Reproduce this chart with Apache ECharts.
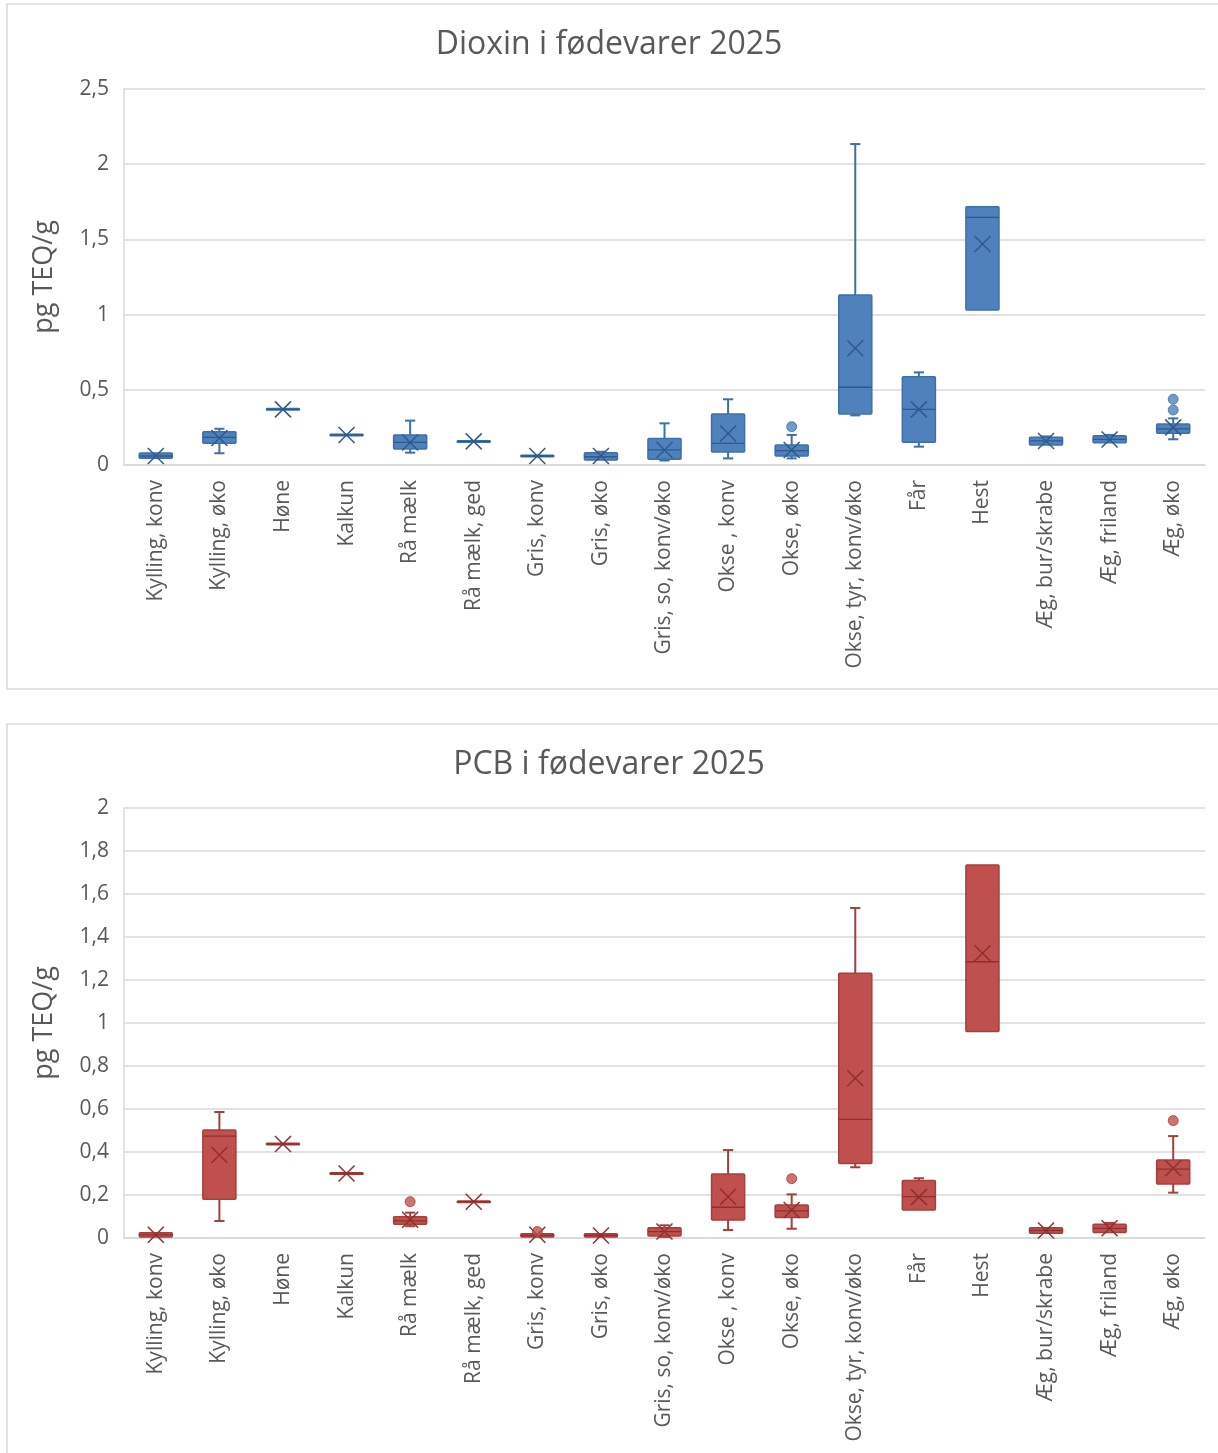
<!DOCTYPE html>
<html>
<head>
<meta charset="utf-8">
<script src="https://cdn.jsdelivr.net/npm/echarts@6/dist/echarts.min.js"></script>
<style>
  html, body { margin: 0; padding: 0; background: #fff; }
  #chart { width: 1218px; height: 1453px; }
</style>
</head>
<body>
<div id="chart"></div>
<script>
// ---------- DATA ----------
const categories = ['Kylling, konv','Kylling, øko','Høne','Kalkun','Rå mælk','Rå mælk, ged','Gris, konv','Gris, øko','Gris, so, konv/øko','Okse , konv','Okse, øko','Okse, tyr, konv/øko','Får','Hest','Æg, bur/skrabe','Æg, friland','Æg, øko'];

const dioxinTicks = [0, 0.5, 1, 1.5, 2, 2.5];
const dioxinMin    = [0.045, 0.078, 0.37, 0.20, 0.082, 0.157, 0.055, 0.033, 0.030, 0.044, 0.044, 0.330, 0.122, 1.030, 0.133, 0.148, 0.171];
const dioxinQ1     = [0.045, 0.144, 0.37, 0.20, 0.106, 0.157, 0.055, 0.033, 0.038, 0.086, 0.060, 0.339, 0.151, 1.030, 0.133, 0.148, 0.211];
const dioxinMedian = [0.060, 0.184, 0.37, 0.20, 0.150, 0.157, 0.060, 0.055, 0.100, 0.144, 0.095, 0.517, 0.370, 1.647, 0.160, 0.170, 0.240];
const dioxinQ3     = [0.080, 0.221, 0.37, 0.20, 0.200, 0.157, 0.065, 0.082, 0.177, 0.339, 0.133, 1.130, 0.587, 1.717, 0.184, 0.195, 0.273];
const dioxinMax    = [0.080, 0.241, 0.37, 0.20, 0.295, 0.157, 0.065, 0.088, 0.277, 0.437, 0.200, 2.134, 0.616, 1.717, 0.190, 0.200, 0.310];
const dioxinMean   = [0.060, 0.180, 0.37, 0.20, 0.150, 0.157, 0.060, 0.060, 0.100, 0.210, 0.100, 0.776, 0.370, 1.469, 0.160, 0.170, 0.250];
const dioxinOutliers = [[10, 0.255], [16, 0.366], [16, 0.437]];

const pcbTicks = [0, 0.2, 0.4, 0.6, 0.8, 1, 1.2, 1.4, 1.6, 1.8, 2];
const pcbMin    = [0.005, 0.079, 0.437, 0.30, 0.055, 0.169, 0.005, 0.005, 0.005, 0.037, 0.043, 0.329, 0.130, 0.960, 0.022, 0.026, 0.211];
const pcbQ1     = [0.005, 0.180, 0.437, 0.30, 0.064, 0.169, 0.005, 0.005, 0.009, 0.084, 0.095, 0.347, 0.130, 0.960, 0.022, 0.026, 0.251];
const pcbMedian = [0.015, 0.474, 0.437, 0.30, 0.080, 0.169, 0.012, 0.012, 0.030, 0.143, 0.126, 0.552, 0.192, 1.285, 0.035, 0.045, 0.320];
const pcbQ3     = [0.025, 0.502, 0.437, 0.30, 0.099, 0.169, 0.020, 0.020, 0.048, 0.298, 0.153, 1.231, 0.267, 1.735, 0.048, 0.064, 0.363];
const pcbMax    = [0.025, 0.586, 0.437, 0.30, 0.118, 0.169, 0.020, 0.020, 0.059, 0.409, 0.203, 1.535, 0.278, 1.735, 0.048, 0.070, 0.474];
const pcbMean   = [0.015, 0.386, 0.437, 0.30, 0.085, 0.169, 0.015, 0.012, 0.030, 0.192, 0.130, 0.743, 0.190, 1.324, 0.035, 0.045, 0.324];
const pcbOutliers = [[4, 0.169], [6, 0.030], [10, 0.276], [16, 0.546]];

// ---------- HELPERS ----------
function rows(mn, q1, md, q3, mx, mean) {
  return categories.map((c, i) => [i, mn[i], q1[i], md[i], q3[i], mx[i], mean[i]]);
}
function fmt(v) { return String(+v.toFixed(1)).replace('.', ','); }

function boxRenderer(fill, stroke, dark) {
  return function (params, api) {
    const i = api.value(0);
    const band = api.size([1, 0])[0];
    const bw = band * 0.52, cw = band * 0.16;
    const x = api.coord([i, 0])[0];
    const yv = k => api.coord([i, api.value(k)])[1];
    const yMin = yv(1), yQ1 = yv(2), yMed = yv(3), yQ3 = yv(4), yMax = yv(5), yMean = yv(6);
    const lineStyle = { stroke: stroke, lineWidth: 2 };
    const ch = [];
    if (yQ3 - yMax > 0.5) {
      ch.push({ type: 'line', shape: { x1: x, y1: yQ3, x2: x, y2: yMax }, style: lineStyle });
      ch.push({ type: 'line', shape: { x1: x - cw / 2, y1: yMax, x2: x + cw / 2, y2: yMax }, style: lineStyle });
    }
    if (yMin - yQ1 > 0.5) {
      ch.push({ type: 'line', shape: { x1: x, y1: yQ1, x2: x, y2: yMin }, style: lineStyle });
      ch.push({ type: 'line', shape: { x1: x - cw / 2, y1: yMin, x2: x + cw / 2, y2: yMin }, style: lineStyle });
    }
    let top = yQ3, h = yQ1 - yQ3;
    if (h < 1.5) { top = (yQ1 + yQ3) / 2 - 0.75; h = 1.5; }
    ch.push({ type: 'rect', shape: { x: x - bw / 2, y: top, width: bw, height: h, r: 1 },
      style: { fill: fill, stroke: stroke, lineWidth: 1.5 } });
    ch.push({ type: 'line', shape: { x1: x - bw / 2, y1: yMed, x2: x + bw / 2, y2: yMed },
      style: { stroke: dark, lineWidth: 1.3 } });
    const s = 8;
    ch.push({ type: 'line', shape: { x1: x - s, y1: yMean - s, x2: x + s, y2: yMean + s }, style: { stroke: dark, lineWidth: 1.5 } });
    ch.push({ type: 'line', shape: { x1: x - s, y1: yMean + s, x2: x + s, y2: yMean - s }, style: { stroke: dark, lineWidth: 1.5 } });
    return { type: 'group', children: ch };
  };
}

const FONT = '"Open Sans", "DejaVu Sans", sans-serif';
const grey = '#595959';
const gridLine = '#d9d9d9';

function xAxisCfg(gi) {
  return {
    type: 'category', gridIndex: gi, data: categories,
    axisLine: { lineStyle: { color: gridLine, width: 1.5 } },
    axisTick: { show: false },
    axisLabel: { interval: 0, rotate: 90, margin: 15, color: grey, fontSize: 21, fontFamily: FONT }
  };
}
function yAxisCfg(gi, max, interval) {
  return {
    type: 'value', gridIndex: gi, min: 0, max: max, interval: interval,
    name: 'pg TEQ/g', nameLocation: 'middle', nameGap: 66,
    nameTextStyle: { color: grey, fontSize: 27, fontFamily: FONT },
    axisLine: { show: true, lineStyle: { color: gridLine, width: 1.5 } },
    axisTick: { show: false },
    splitLine: { lineStyle: { color: gridLine, width: 1.5 } },
    axisLabel: { color: grey, fontSize: 21, fontFamily: FONT, margin: 15, formatter: fmt }
  };
}

const blue = { fill: '#4F81BD', stroke: '#3E6FA8', dark: '#2F5A8C' };
const red = { fill: '#C0504D', stroke: '#A53F3C', dark: '#8E302D' };

const option = {
  animation: false,
  backgroundColor: '#fff',
  title: [
    { text: 'Dioxin i fødevarer 2025', left: 'center', top: 24,
      textStyle: { color: grey, fontSize: 32, fontWeight: 'normal', fontFamily: FONT } },
    { text: 'PCB i fødevarer 2025', left: 'center', top: 744,
      textStyle: { color: grey, fontSize: 32, fontWeight: 'normal', fontFamily: FONT } }
  ],
  graphic: [
    { type: 'rect', shape: { x: 7, y: 4, width: 1220, height: 685 }, style: { fill: 'none', stroke: '#d9d9d9', lineWidth: 1.5 }, z: -1 },
    { type: 'rect', shape: { x: 7, y: 724, width: 1220, height: 740 }, style: { fill: 'none', stroke: '#d9d9d9', lineWidth: 1.5 }, z: -1 }
  ],
  grid: [
    { left: 124, top: 89, width: 1081, height: 376 },
    { left: 124, top: 808, width: 1081, height: 430 }
  ],
  xAxis: [xAxisCfg(0), xAxisCfg(1)],
  yAxis: [yAxisCfg(0, dioxinTicks[dioxinTicks.length - 1], dioxinTicks[1]), yAxisCfg(1, pcbTicks[pcbTicks.length - 1], pcbTicks[1])],
  series: [
    { type: 'custom', xAxisIndex: 0, yAxisIndex: 0, renderItem: boxRenderer(blue.fill, blue.stroke, blue.dark),
      encode: { x: 0, y: [1, 2, 3, 4, 5, 6] },
      data: rows(dioxinMin, dioxinQ1, dioxinMedian, dioxinQ3, dioxinMax, dioxinMean) },
    { type: 'scatter', xAxisIndex: 0, yAxisIndex: 0, symbol: 'circle', symbolSize: 10,
      itemStyle: { color: blue.fill, borderColor: blue.stroke, borderWidth: 1 }, data: dioxinOutliers },
    { type: 'custom', xAxisIndex: 1, yAxisIndex: 1, renderItem: boxRenderer(red.fill, red.stroke, red.dark),
      encode: { x: 0, y: [1, 2, 3, 4, 5, 6] },
      data: rows(pcbMin, pcbQ1, pcbMedian, pcbQ3, pcbMax, pcbMean) },
    { type: 'scatter', xAxisIndex: 1, yAxisIndex: 1, symbol: 'circle', symbolSize: 10,
      itemStyle: { color: red.fill, borderColor: red.stroke, borderWidth: 1 }, data: pcbOutliers }
  ]
};

const chart = echarts.init(document.getElementById('chart'), null, { renderer: 'canvas' });
chart.setOption(option);
</script>
</body>
</html>
